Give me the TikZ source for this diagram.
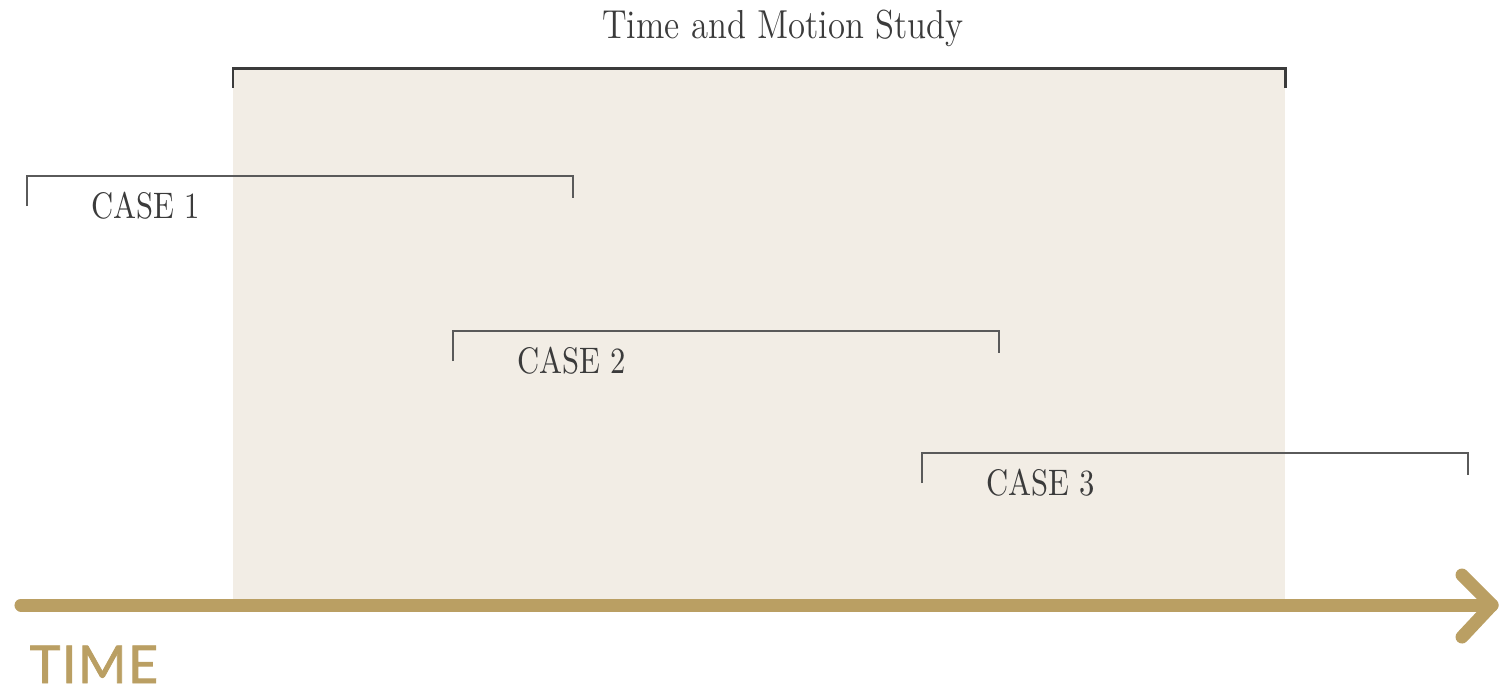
\documentclass[tikz,border=0pt]{standalone}
\usepackage{fontspec}
\newfontfamily\timefont[FakeBold=1.6,LetterSpace=3]{Lato}
\definecolor{gold}{HTML}{BA9F63}
\definecolor{sand}{HTML}{F2EDE5}
\definecolor{ink}{HTML}{3B3B3B}
\definecolor{rule}{HTML}{5A5A5A}

\begin{document}
\begin{tikzpicture}[x=0.01cm,y=-0.01cm,
		casebr/.style={rule,line width=0.5pt},
		studybr/.style={ink,line width=0.85pt},
		timeline/.style={gold,line width=3.7pt,line cap=round,line join=round},
		caselabel/.style={ink,anchor=base west,inner sep=0pt,font=\fontsize{10.5}{12}\selectfont,xscale=0.83},
		]
		\useasboundingbox (0,0) rectangle (1501,690);
		% study window
		\coordinate (SW0) at (233,68);
		\coordinate (SW1) at (1285,68);
		\fill[sand] (SW0) rectangle (1285,600);
		\draw[studybr] (SW0) ++(0,20) -- (SW0) -- (SW1) -- ++(0,20);
		\node[ink,anchor=base,inner sep=0pt,font=\fontsize{11.5}{14}\selectfont,xscale=0.86] (study) at (783,38) {Time and Motion Study};

		% cases
		\foreach \x/\y/\n in {27/176/1,453/331/2,922/453/3}{
			\coordinate (C\n a) at (\x,\y);
			\coordinate (C\n b) at (\x+546,\y);
			\draw[casebr] (C\n a) ++(0,30) -- (C\n a) -- (C\n b) -- ++(0,22);
			\node[caselabel] (case\n) at (\x+64,\y+42) {CASE \n};
		}

		% time axis
		\coordinate (T0) at (21,605);
		\coordinate (T1) at (1492,605);
		\draw[timeline] (T0) -- (T1);
		\draw[timeline] (1462,575) -- (T1) -- (1462,637);
		\node[gold,anchor=base west,inner sep=0pt,font=\timefont\fontsize{14.8}{16}\selectfont] (time) at (29,683) {TIME};
\end{tikzpicture}
\end{document}
